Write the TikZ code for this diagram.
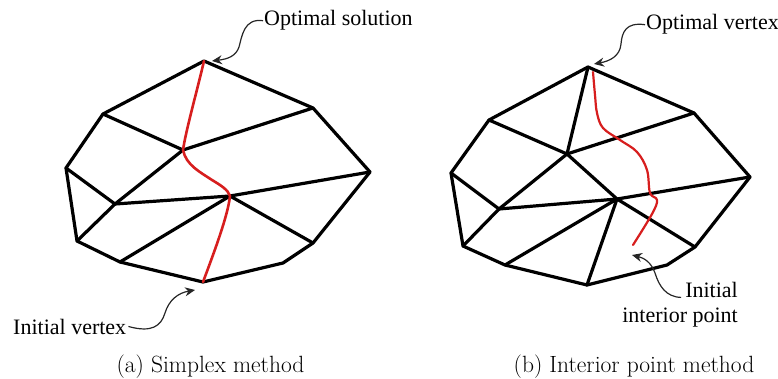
\documentclass[tikz,border=0pt]{standalone}
\usepackage{fontspec}
\newfontfamily\labfont{Liberation Serif}
\usetikzlibrary{arrows.meta}
\definecolor{pathred}{RGB}{215,30,30}
\begin{document}
\begin{tikzpicture}[x=1pt,y=-1pt,
  edge/.style={line width=3.2pt,line join=round,line cap=round},
  redpath/.style={draw=pathred,line width=2.6pt,line cap=round,line join=round},
  callout/.style={line width=1.2pt,draw=black!85,-{Stealth[length=10pt,width=9pt]}},
  lab/.style={font=\labfont\fontsize{22}{26}\selectfont,inner sep=0pt,text=black},
  captext/.style={font=\fontsize{23.5}{28}\selectfont,inner sep=0pt}
]
\useasboundingbox (0,0) rectangle (778,379);

% ---------- left polytope ----------
\coordinate (aT)  at (204,61);
\coordinate (aUL) at (103,114);
\coordinate (aUR) at (313,108);
\coordinate (aC1) at (183,150);
\coordinate (aL)  at (66,168);
\coordinate (aR)  at (370,172);
\coordinate (aC2) at (115,204);
\coordinate (aC3) at (230,196);
\coordinate (aLL) at (77,241);
\coordinate (aLR) at (313,243);
\coordinate (aBR) at (283,263);
\coordinate (aBL) at (120,262);
\coordinate (aB)  at (203,282);

\draw[edge] (aT) -- (aUR) -- (aR) -- (aLR) -- (aBR) -- (aB) -- (aBL) -- (aLL) -- (aL) -- (aUL) -- cycle;
\draw[edge] (aUL) -- (aC1) -- (aUR);
\draw[edge] (aC1) -- (aC2) -- (aLL);
\draw[edge] (aL) -- (aC2) -- (aC3) -- (aR);
\draw[edge] (aBL) -- (aC3) -- (aLR);
\draw[redpath] (aT) .. controls (196,95) and (186,130) .. (aC1)
  .. controls (186,165) and (200,172) .. (212,180)
  .. controls (222,186) and (228,190) .. (aC3)
  .. controls (228,215) and (215,250) .. (aB);

% ---------- right polytope ----------
\coordinate (bT)  at (588,67);
\coordinate (bUL) at (489,120);
\coordinate (bUR) at (694,113);
\coordinate (bC1) at (567,154);
\coordinate (bL)  at (451,173);
\coordinate (bR)  at (750,177);
\coordinate (bC2) at (499,209);
\coordinate (bC3) at (617,199);
\coordinate (bLL) at (463,246);
\coordinate (bLR) at (695,247);
\coordinate (bBR) at (667,265);
\coordinate (bBL) at (505,265);
\coordinate (bB)  at (587,285);

\draw[edge] (bT) -- (bUR) -- (bR) -- (bLR) -- (bBR) -- (bB) -- (bBL) -- (bLL) -- (bL) -- (bUL) -- cycle;
\draw[edge] (bUL) -- (bC1) -- (bUR);
\draw[edge] (bT) -- (bC1) -- (bC2) -- (bLL);
\draw[edge] (bL) -- (bC2) -- (bC3) -- (bR);
\draw[edge] (bBL) -- (bC3) -- (bLR);
\draw[edge] (bC1) -- (bC3) -- (bB);
\draw[redpath,line width=2.2pt] plot[smooth,tension=0.6] coordinates
  {(593,72) (595,95) (597,113) (603,128) (620,140) (637,152) (647,170) (650,193) (657,200) (652,214) (633,245)};

% ---------- labels ----------
\node[lab,anchor=base west] (optA) at (264,26) {Optimal solution};
\node[lab,anchor=base west] (iniA) at (13,334) {Initial vertex};
\node[lab,anchor=base west] (optB) at (646,30) {Optimal vertex};
\node[lab,anchor=base east] (iniB1) at (738,297) {Initial};
\node[lab,anchor=base east] (iniB2) at (738,322) {interior point};

\coordinate (tipA1) at (212,61);
\coordinate (tipA2) at (195,290);
\coordinate (tipB1) at (594,64);
\coordinate (tipB2) at (632,255);

\draw[callout] ([xshift=-1pt]optA.west) .. controls (244,18) and (242,36) .. (239,47)
  .. controls (236,56) and (228,59) .. (tipA1);
\draw[callout] ([xshift=2pt]iniA.east) .. controls (152,333) and (161,326) .. (165,313)
  .. controls (169,300) and (178,293) .. (tipA2);
\draw[callout] ([xshift=-1pt]optB.west) .. controls (626,22) and (622,32) .. (621,44)
  .. controls (620,56) and (610,61) .. (tipB1);
\draw[callout] ([xshift=-4pt]iniB1.south west) .. controls (666,297) and (659,286) .. (655,273)
  .. controls (651,262) and (644,258) .. (tipB2);

% ---------- captions ----------
\node[captext,anchor=base] (capA) at (210.5,372) {(a) Simplex method};
\node[captext,anchor=base] (capB) at (634,372) {(b) Interior point method};
\end{tikzpicture}
\end{document}
